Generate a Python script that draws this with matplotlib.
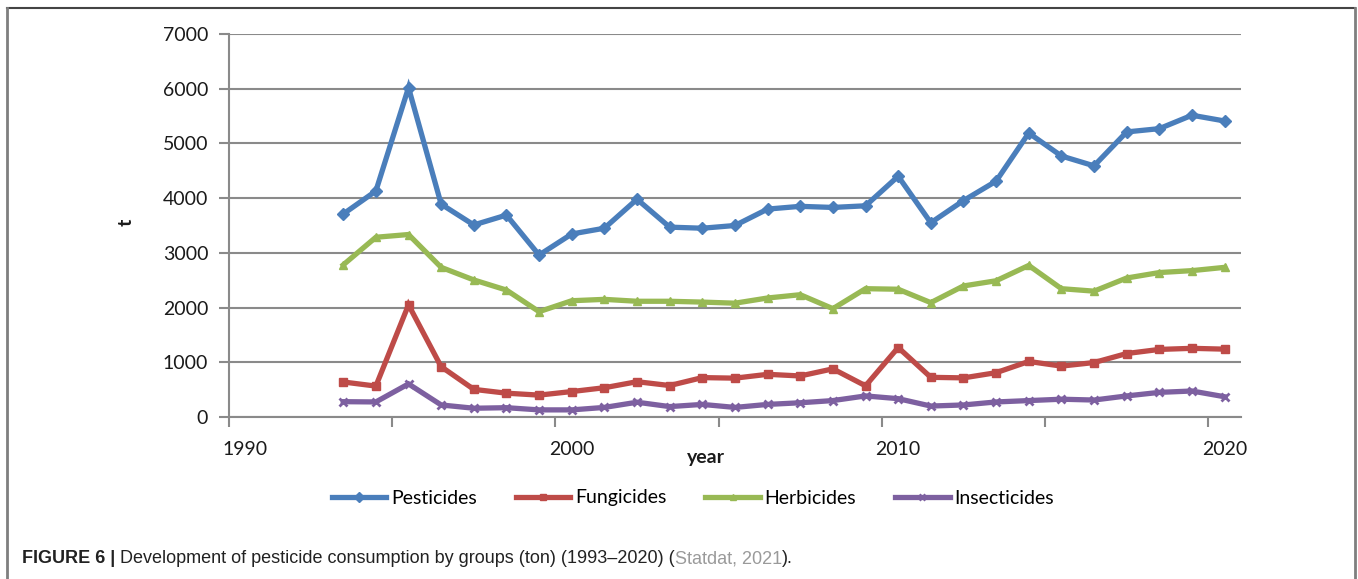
import matplotlib
matplotlib.use("Agg")
import matplotlib.pyplot as plt
import matplotlib.transforms as mtransforms
from matplotlib.lines import Line2D
import numpy as np

# Pesticide consumption by group, tonnes, 1993-2020
years = list(range(1993, 2021))
pesticides = [3710, 4130, 6020, 3890, 3510, 3690, 2960, 3345, 3450, 3980,
              3470, 3450, 3500, 3800, 3850, 3830, 3860, 4400, 3550, 3955,
              4310, 5190, 4770, 4590, 5210, 5270, 5515, 5410]
fungicides = [640, 565, 2050, 920, 505, 435, 400, 465, 535, 645,
              575, 720, 710, 780, 750, 880, 570, 1270, 725, 715,
              810, 1015, 930, 995, 1160, 1235, 1255, 1240]
herbicides = [2780, 3285, 3335, 2735, 2505, 2320, 1925, 2125, 2150, 2115,
              2115, 2100, 2080, 2175, 2235, 1980, 2345, 2335, 2090, 2395,
              2490, 2770, 2345, 2300, 2540, 2640, 2675, 2735]
insecticides = [280, 275, 605, 220, 160, 170, 130, 130, 175, 270,
                190, 230, 175, 230, 260, 300, 385, 335, 200, 220,
                275, 300, 325, 310, 385, 450, 475, 370]

series_names = ["Pesticides", "Fungicides", "Herbicides", "Insecticides"]
series_values = [pesticides, fungicides, herbicides, insecticides]
colors = ["#4A7EBB", "#BE4B48", "#98B954", "#7D60A0"]
markers = ["D", "s", "^", "x"]

year_ticks = [1990, 1995, 2000, 2005, 2010, 2015, 2020]
year_labels = ["1990", "", "2000", "", "2010", "", "2020"]
y_ticks = [0, 1000, 2000, 3000, 4000, 5000, 6000, 7000]

plt.rcParams["font.family"] = ["Lato", "DejaVu Sans"]
grid_col = "#8a8a8a"

fig = plt.figure(figsize=(13.58, 5.79), dpi=100)
ax = fig.add_axes([0.1686, 0.2798, 0.7452, 0.6615])

# values are yearly totals, plotted at mid-year
x = np.array(years) + 0.5
for name, vals, c, m in zip(series_names, series_values, colors, markers):
    ax.plot(x, vals, color=c, lw=3.8, marker=m, ms=6,
            mew=2 if m == "x" else 1,
            mfc=c, mec=c, label=name, solid_joinstyle="miter", zorder=3)

ax.set_xlim(1990, 2021)
ax.set_ylim(0, 7000)
ax.set_xticks(year_ticks)
ax.set_xticklabels(year_labels)
ax.set_yticks(y_ticks)
ax.tick_params(axis="both", labelsize=14, colors=grid_col, labelcolor="#1a1a1a",
               length=7, width=1.5, direction="out")
ax.tick_params(axis="x", pad=10)
ax.tick_params(axis="y", pad=8)

# year labels sit in the middle of their year
shift = mtransforms.ScaledTranslation(16 / 100, 0, fig.dpi_scale_trans)
for lab in ax.get_xticklabels():
    lab.set_transform(lab.get_transform() + shift)

ax.yaxis.grid(True, color=grid_col, lw=1.5)
ax.set_axisbelow(True)
for side in ["top", "right"]:
    ax.spines[side].set_visible(False)
for side in ["left", "bottom"]:
    ax.spines[side].set_color(grid_col)
    ax.spines[side].set_linewidth(1.5)

fig.text(706 / 1358, 1 - 458 / 579, "year", ha="center", va="center",
         fontsize=14, fontweight="bold", color="#1a1a1a")
fig.text(126 / 1358, 1 - 222 / 579, "t", ha="center", va="center",
         fontsize=14, fontweight="bold", rotation=90, color="#1a1a1a")

handles = [Line2D([], [], color=c, lw=3.8, marker=m, ms=5, mfc=c, mec=c,
                  mew=2 if m == "x" else 1)
           for c, m in zip(colors, markers)]
fig.legend(handles, series_names, loc="center", ncol=4,
           bbox_to_anchor=(693 / 1358, 1 - 498 / 579), frameon=False,
           fontsize=14, handlelength=2.8, handletextpad=0.25,
           columnspacing=2.0)

# panel frame
frame_col = "#7f7f7f"
fig.add_artist(Line2D([7 / 1358, 1355 / 1358], [1 - 8 / 579, 1 - 8 / 579],
                      color="#444444", lw=1.5))
fig.add_artist(Line2D([7 / 1358, 7 / 1358], [0, 1 - 8 / 579],
                      color=frame_col, lw=2))
fig.add_artist(Line2D([1355 / 1358, 1355 / 1358], [0, 1 - 8 / 579],
                      color=frame_col, lw=2))

# caption
cap_font = ["Liberation Sans Narrow", "Liberation Sans", "DejaVu Sans"]
cap_size = 13
t1 = fig.text(22 / 1358, 1 - 563 / 579, "FIGURE 6 | ", family=cap_font,
              fontsize=cap_size, fontweight="bold", color="#222222",
              va="baseline")
ann2 = ax.annotate("Development of pesticide consumption by groups (ton) "
                   "(1993\u20132020) (",
                   xy=(1, 0), xycoords=t1, va="bottom",
                   family=cap_font, fontsize=cap_size, color="#222222",
                   annotation_clip=False)
ann3 = ax.annotate("Statdat, 2021", xy=(1, 0), xycoords=ann2, va="bottom",
                   family=cap_font, fontsize=cap_size, color="#9a9a9a",
                   annotation_clip=False)
ax.annotate(").", xy=(1, 0), xycoords=ann3, va="bottom",
            family=cap_font, fontsize=cap_size, color="#222222",
            annotation_clip=False)

fig.savefig("out.png", dpi=100)
